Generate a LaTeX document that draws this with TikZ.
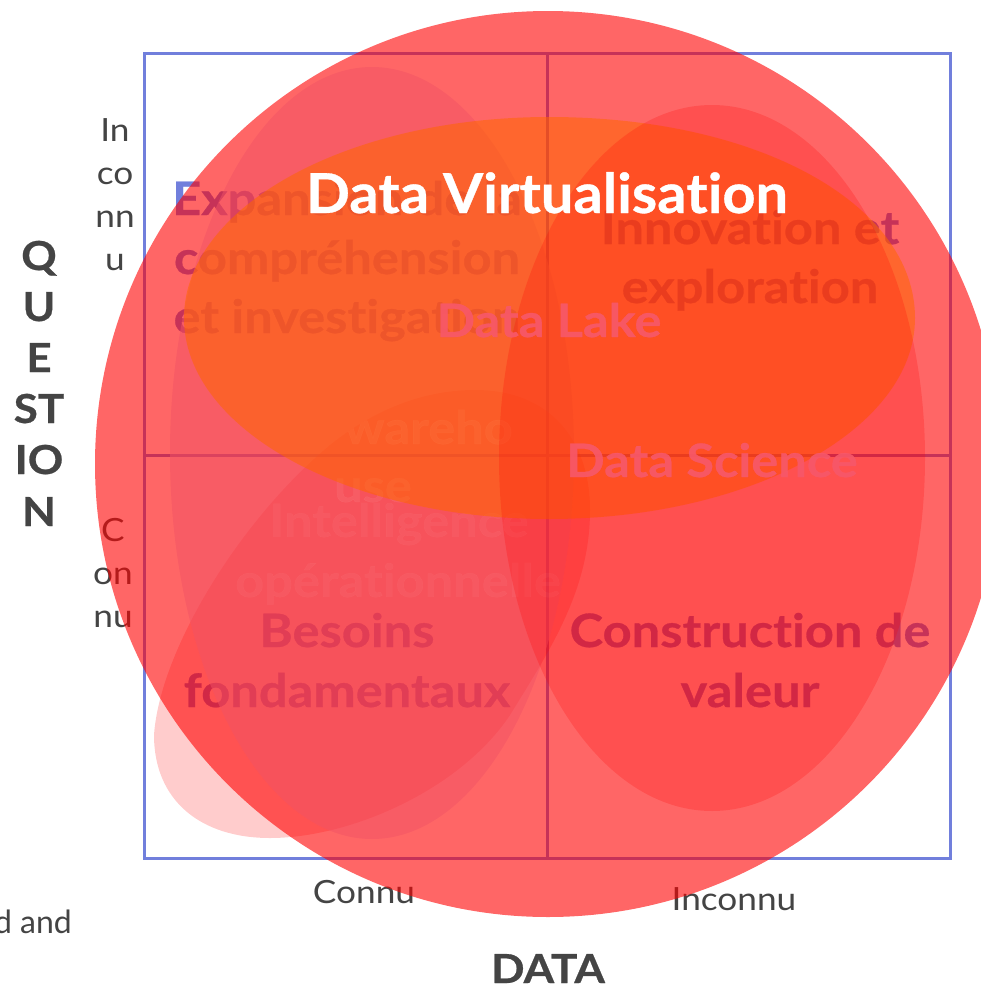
\documentclass[tikz,border=0pt]{standalone}
\usepackage{fontspec}
\setmainfont{Lato}[Ligatures=NoCommon,FakeStretch=1.1,BoldFeatures={FakeStretch=1.1,FakeBold=0.6}]
\newfontfamily\virtfont{Lato}[Ligatures=NoCommon,BoldFeatures={FakeStretch=1.05,FakeBold=0.6}]
\definecolor{boxblue}{RGB}{113,127,220}
\definecolor{inkgray}{RGB}{68,68,68}
\definecolor{labelpink}{RGB}{247,88,106}
\definecolor{veilpink}{RGB}{241,82,100}
\definecolor{orangefill}{RGB}{255,102,0}
\newcommand{\blobpath}{(154,-735) .. controls (160,-650) and (240,-520) .. (330,-445)
 .. controls (380,-405) and (430,-390) .. (475,-390)
 .. controls (550,-390) and (590,-440) .. (590,-510)
 .. controls (590,-590) and (550,-650) .. (510,-715)
 .. controls (460,-790) and (350,-838) .. (270,-838)
 .. controls (200,-838) and (154,-800) .. (154,-735) -- cycle}
\tikzset{
  axis/.style={font=\fontsize{32}{32}\selectfont,text=inkgray,inner sep=0pt,anchor=base},
  axisb/.style={font=\fontsize{40}{40}\selectfont\bfseries,text=inkgray,inner sep=0pt,anchor=base},
  quad/.style={font=\fontsize{46}{46}\selectfont\bfseries,text=boxblue,inner sep=0pt,anchor=base},
  top/.style={font=\fontsize{46}{46}\selectfont\bfseries,text=labelpink,text opacity=.9,inner sep=0pt,anchor=base},
  faint/.style={font=\fontsize{46}{46}\selectfont\bfseries,text=white,text opacity=.04,inner sep=0pt,anchor=base},
  gridline/.style={draw=boxblue,line width=3.4pt},
}
\begin{document}
\begin{tikzpicture}[x=1pt,y=1pt]
\useasboundingbox (0,0) rectangle (981,-985);
\clip (0,0) rectangle (981,-985);
% grid
\draw[gridline] (144.4,-53.4) rectangle (950.4,-858.6);
\draw[gridline] (547.4,-53.4) -- (547.4,-858.6);
\draw[gridline] (144.4,-455.6) -- (950.4,-455.6);
% axis labels
\foreach \t/\y [count=\i] in {In/141,co/184,nn/227,u/270}
  \node[axis] (yi\i) at (115,-\y) {\t};
\foreach \t/\y [count=\i] in {C/541,on/584,nu/627}
  \node[axis] (yc\i) at (113,-\y) {\t};
\foreach \t/\y [count=\i] in {Q/270,U/321,E/372,ST/423,IO/474,N/526}
  \node[axisb] (yq\i) at (39,-\y) {\t};
\node[axis] (xc) at (364,-903) {Connu};
\node[axis] (xi) at (734,-910) {Inconnu};
\node[axisb] (xd) at (548,-983) {DATA};
\node[axis,font=\virtfont\fontsize{32}{32}\selectfont,anchor=base east] (frag) at (72,-933) {d and};
% quadrant titles
\node[quad] (q1a) at (347,-215) {Expansion de la};
\node[quad] (q1b) at (347,-274) {compréhension};
\node[quad] (q1c) at (347,-333) {et investigation};
\node[quad] (q2a) at (750,-244) {Innovation et};
\node[quad] (q2b) at (750,-303) {exploration};
\node[quad] (q3a) at (347,-647) {Besoins};
\node[quad] (q3b) at (347,-707) {fondamentaux};
\node[quad] (q4a) at (750,-647) {Construction de};
\node[quad] (q4b) at (750,-707) {valeur};
% big circle
\fill[red,opacity=.6] (548,-464) circle (453);
% blob
\fill[red,opacity=.2] \blobpath;
% veil ellipse
\fill[veilpink,opacity=.5] (372,-453) ellipse (202 and 386);
% faint texts that only show inside the blob
\begin{scope}
\clip \blobpath;
\node[faint,text opacity=.08,anchor=base east] (w1) at (513,-444) {wareho};
\node[faint,text opacity=.06] (w2) at (373,-502) {use};
\node[faint] (i1) at (399,-537) {Intelligence};
\node[faint] (i2) at (398,-597) {opérationnelle};
\end{scope}
% orange shape
\fill[orangefill,opacity=.55] (184,-318)
  .. controls (184,-207) and (347,-117) .. (549,-117)
  .. controls (760,-117) and (915,-205) .. (915,-318)
  .. controls (915,-429) and (751,-519) .. (549,-519)
  .. controls (347,-519) and (184,-429) .. (184,-318) -- cycle;
% science ellipse
\fill[red,opacity=.22] (712,-458) ellipse (213 and 353);
% top labels
\node[top] (lake) at (549,-337) {Data Lake};
\node[top] (sci) at (712,-477) {Data Science};
\node[font=\virtfont\fontsize{55}{55}\selectfont\bfseries,text=white,inner sep=0pt,anchor=base] (virt) at (547,-213) {Data Virtualisation};
\end{tikzpicture}
\end{document}
